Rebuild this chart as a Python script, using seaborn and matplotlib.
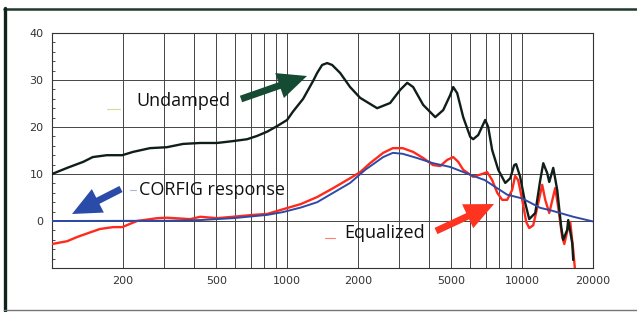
import numpy as np
import pandas as pd
import matplotlib
matplotlib.use("Agg")
import matplotlib.pyplot as plt
from matplotlib.lines import Line2D
from matplotlib.ticker import FixedLocator, NullFormatter
import seaborn as sns

# ---------------- data ----------------
undamped_f = [100, 116, 136, 149, 171, 199, 221, 261, 308, 361, 427, 503, 589, 676, 745,
              822, 907, 1000, 1060, 1170, 1290, 1342, 1409, 1480, 1554, 1681, 1853, 2045,
              2415, 2742, 3027, 3243, 3436, 3791, 4266, 4613, 4940, 5088, 5289, 5610,
              6010, 6185, 6500, 6960, 7166, 7450, 7907, 8470, 8895, 9245, 9420, 9800,
              10300, 10710, 11360, 11930, 12290, 12770, 13030, 13550, 14090, 14650,
              14940, 15530, 15690, 16320, 16480]
undamped_db = [10.0, 11.3, 12.6, 13.6, 14.0, 14.0, 14.7, 15.5, 15.7, 16.4, 16.6, 16.6, 17.0,
               17.4, 18.1, 19.0, 20.2, 21.5, 23.3, 26.0, 29.8, 31.5, 33.2, 33.6, 33.2,
               31.5, 28.5, 26.2, 24.0, 25.1, 27.9, 29.4, 28.5, 24.7, 22.1, 23.6, 26.8,
               28.5, 27.2, 22.1, 17.9, 17.4, 18.3, 21.5, 20.0, 15.1, 10.9, 8.1, 9.1,
               11.9, 12.1, 9.4, 3.8, 0.4, 1.7, 8.7, 12.3, 10.2, 8.3, 11.3, 6.6, -1.3,
               -4.0, -1.9, 0.2, -4.7, -8.3]

equalized_f = [100, 116, 128, 142, 160, 182, 199, 215, 230, 280, 308, 387, 427, 503, 589,
               716, 822, 961, 1143, 1342, 1571, 1853, 2045, 2253, 2562, 2817, 3100, 3436,
               3791, 4174, 4480, 4795, 5088, 5340, 5610, 6185, 6755, 7097, 7450, 7830,
               8220, 8630, 9060, 9330, 9610, 10000, 10400, 10710, 11140, 11700, 12160,
               12530, 13030, 13810, 14220, 14790, 15100, 15690, 16000, 16480, 16810]
equalized_db = [-4.9, -4.3, -3.4, -2.6, -1.7, -1.3, -1.3, -0.6, 0.0, 0.6, 0.7, 0.4, 0.9,
                0.6, 0.9, 1.3, 1.5, 2.5, 3.6, 5.1, 7.0, 9.1, 10.4, 12.3, 14.5, 15.5, 15.5,
                14.7, 13.4, 11.9, 11.7, 13.0, 13.6, 12.6, 10.9, 9.4, 10.0, 10.4, 8.7, 6.0,
                4.5, 4.5, 6.6, 9.6, 8.7, 4.5, -0.2, -1.5, -0.9, 3.8, 7.7, 4.5, 1.7, 7.0,
                3.0, -3.4, -4.9, -1.3, -0.2, -6.2, -11.0]

corfig_f = [100, 310, 427, 589, 822, 961, 1150, 1342, 1571, 1853, 2150, 2562, 2817, 3100,
            3570, 4174, 4940, 6185, 6930, 8630, 10000, 11930, 13150, 16480, 20000]
corfig_db = [0.0, 0.05, 0.2, 0.6, 1.3, 1.9, 2.9, 4.0, 6.0, 8.1, 10.9, 13.6, 14.5, 14.3,
             13.4, 12.3, 11.5, 9.6, 8.7, 5.6, 4.8, 2.8, 2.3, 0.9, -0.1]

x_ticks = [200, 500, 1000, 2000, 5000, 10000, 20000]
x_grid = [200, 300, 400, 500, 600, 700, 800, 900, 1000, 2000, 3000, 4000, 5000,
          6000, 7000, 8000, 9000, 10000, 20000]
y_ticks = [0, 10, 20, 30, 40]

# ---------------- figure ----------------
sns.set_style("white")
plt.rcParams['font.family'] = ['DejaVu Sans']

W, H = 637, 312
fig = plt.figure(figsize=(W / 100, H / 100), dpi=100)
fig.patch.set_facecolor("white")
ax = fig.add_axes([52 / W, 1 - 268 / H, (593 - 52) / W, (268 - 33) / H])

df_u = pd.DataFrame({"f": undamped_f, "db": undamped_db})
df_e = pd.DataFrame({"f": equalized_f, "db": equalized_db})
df_c = pd.DataFrame({"f": corfig_f, "db": corfig_db})

line_kw = dict(solid_joinstyle="round", solid_capstyle="round")
sns.lineplot(data=df_u, x="f", y="db", ax=ax, color="#0f1f17", lw=1.7, zorder=4, **line_kw)
sns.lineplot(data=df_e, x="f", y="db", ax=ax, color="#ff2a1c", lw=1.7, zorder=3, **line_kw)
sns.lineplot(data=df_c, x="f", y="db", ax=ax, color="#2e4aa6", lw=1.4, zorder=5, **line_kw)

ax.set_xscale("log")
ax.set_xlim(100, 20000)
ax.set_ylim(-10, 40)
ax.set_xlabel("")
ax.set_ylabel("")

ax.xaxis.set_major_locator(FixedLocator(x_ticks))
ax.xaxis.set_minor_locator(FixedLocator(x_grid))
ax.set_xticklabels([str(t) for t in x_ticks])
ax.xaxis.set_minor_formatter(NullFormatter())
ax.set_yticks(y_ticks)
ax.yaxis.set_minor_locator(FixedLocator(np.arange(-10, 41, 2)))

ax.tick_params(axis="x", which="both", length=0, pad=6, labelsize=8, labelcolor="#333333")
ax.tick_params(axis="y", which="major", length=3, direction="out", pad=3, labelsize=8,
               labelcolor="#333333", color="#333333")
ax.tick_params(axis="y", which="minor", length=2.5, direction="in", color="#333333", left=True)

ax.xaxis.grid(True, which="both", color="#444444", lw=0.7)
ax.yaxis.grid(True, which="major", color="#444444", lw=0.7)
ax.set_axisbelow(True)
for s in ax.spines.values():
    s.set_visible(True)
    s.set_color("#333333")
    s.set_linewidth(0.8)

# ---------------- annotations ----------------
def fx(px):
    return px / W

def fy(py):
    return 1 - py / H

txt_kw = dict(fontsize=13, color="#111111", family=["Open Sans", "DejaVu Sans"],
              va="center", ha="left")
fig.text(fx(136), fy(101), "Undamped", **txt_kw)
fig.text(fx(139), fy(190), "CORFIG response", **txt_kw)
fig.text(fx(344), fy(233), "Equalized", **txt_kw)

arrow_style = "simple,head_length=1.1,head_width=1.0,tail_width=0.26"
def arrow(x0, y0, x1, y1, color):
    ax.annotate("", xy=(fx(x1), fy(y1)), xytext=(fx(x0), fy(y0)),
                xycoords="figure fraction", textcoords="figure fraction",
                arrowprops=dict(arrowstyle=arrow_style, color=color, lw=0,
                                mutation_scale=19, shrinkA=0, shrinkB=0))

arrow(241, 99, 307, 76, "#154a33")
arrow(121, 189, 72, 214, "#2b4ba8")
arrow(436, 231, 494, 204, "#ff3420")

# small legend-like dashes
fig.add_artist(Line2D([fx(107), fx(120)], [fy(109), fy(109)], color="#d8d890", lw=0.8))
fig.add_artist(Line2D([fx(130), fx(136)], [fy(190), fy(190)], color="#a8b8d8", lw=0.8))
fig.add_artist(Line2D([fx(325), fx(335)], [fy(238), fy(238)], color="#ff8070", lw=0.8))

# outer frame
fig.add_artist(Line2D([fx(4), fx(637)], [fy(8.5), fy(8.5)], color="#1f3a2c", lw=1.8))
fig.add_artist(Line2D([fx(5), fx(5)], [fy(8), fy(311)], color="#10241a", lw=2.4))
fig.add_artist(Line2D([fx(4), fx(637)], [fy(310), fy(310)], color="#777777", lw=1.0))

fig.savefig("out.png", dpi=100)
